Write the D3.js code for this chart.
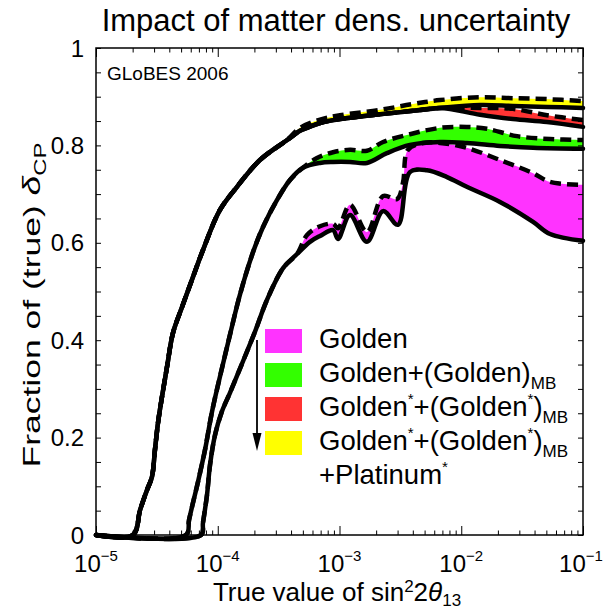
<!DOCTYPE html>
<html><head><meta charset="utf-8">
<script src="https://cdn.jsdelivr.net/npm/d3@7"></script>
<style>
body{margin:0;background:#fff}
text{font-family:"Liberation Sans",Arial,Helvetica,sans-serif;fill:#000}
</style>
</head><body>
<svg id="c" width="603" height="611"></svg>
<script>
// ---------- data (x = true sin^2 2theta13, y = fraction of true deltaCP) ----------
const xTickExps = [-5, -4, -3, -2, -1];
const yTickValues = [0, 0.2, 0.4, 0.6, 0.8, 1];
const yTickLabels = ["0", "0.2", "0.4", "0.6", "0.8", "1"];

// top group (shared part of yellow/red curves)
const topBase = [[1e-5,0],[2.01e-5,0],[2.30e-5,0.051],[2.62e-5,0.092],[2.88e-5,0.119],[3.05e-5,0.175],
  [3.23e-5,0.230],[3.48e-5,0.283],[3.83e-5,0.345],[4.29e-5,0.415],[5.09e-5,0.468],[6.14e-5,0.524],
  [7.56e-5,0.585],[1.04e-4,0.667],[1.44e-4,0.715],[2.22e-4,0.770],[3.71e-4,0.811]];
const topMid = [[4.74e-4,0.830],[5.41e-4,0.836],[6.92e-4,0.846],[1.01e-3,0.854],[2.15e-3,0.864],
  [4.02e-3,0.871],[6.69e-3,0.877]];
const yellowUpperTail = [[4.74e-4,0.836],[6.92e-4,0.853],[1.01e-3,0.862],[2.15e-3,0.873],[4.02e-3,0.885],
  [6.69e-3,0.893],[1.43e-2,0.899],[2.66e-2,0.897],[5.06e-2,0.895],[0.1,0.891]];
const yellowLowerTail = [[1.43e-2,0.883],[2.66e-2,0.881],[5.06e-2,0.879],[0.1,0.877]];
const redUpperTail = [[1.43e-2,0.877],[2.66e-2,0.875],[5.06e-2,0.862],[0.1,0.852]];
const redLowerTail = [[1.43e-2,0.863],[2.66e-2,0.854],[5.06e-2,0.848],[0.1,0.838]];

// green group
const greenBase = [[1e-5,0],[5.48e-5,0],[5.81e-5,0.031],[6.26e-5,0.066],[6.88e-5,0.109],[7.86e-5,0.175],
  [8.97e-5,0.253],[1.04e-4,0.324],[1.26e-4,0.411],[1.52e-4,0.493],[1.95e-4,0.581],[2.35e-4,0.632],
  [3.07e-4,0.688],[3.92e-4,0.729],[5.01e-4,0.754]];
const greenUpperTail = [[6.53e-4,0.774],[8.85e-4,0.786],[1.22e-3,0.791],[1.68e-3,0.789],[2.28e-3,0.807],
  [3.79e-3,0.823],[6.69e-3,0.836],[1.11e-2,0.838],[1.63e-2,0.834],[2.87e-2,0.819],[5.36e-2,0.813],[0.1,0.811]];
const greenLowerTail = [[6.92e-4,0.764],[8.85e-4,0.766],[1.22e-3,0.766],[1.68e-3,0.764],[2.45e-3,0.784],
  [3.79e-3,0.801],[6.69e-3,0.807],[1.11e-2,0.805],[2.08e-2,0.799],[3.89e-2,0.795],[0.1,0.793]];

// magenta group
const magentaBase = [[1e-5,0],[7.29e-5,0],[7.56e-5,0.025],[8.16e-5,0.082],[8.64e-5,0.144],[9.49e-5,0.205],
  [1.08e-4,0.253],[1.26e-4,0.292],[1.67e-4,0.366],[2.02e-4,0.417],[2.54e-4,0.483],[3.44e-4,0.548],[4.48e-4,0.577]];
const magentaUpperTail = [[5.41e-4,0.616],[6.92e-4,0.634],[8.85e-4,0.639],[9.72e-4,0.630],[1.22e-3,0.678],
  [1.68e-3,0.622],[2.28e-3,0.696],[2.97e-3,0.690],[3.32e-3,0.723],[3.65e-3,0.791],[4.85e-3,0.805],
  [6.69e-3,0.805],[1.11e-2,0.795],[2.08e-2,0.770],[3.89e-2,0.743],[5.36e-2,0.725],[0.1,0.719]];
const magentaLowerTail = [[5.72e-4,0.602],[6.92e-4,0.614],[8.85e-4,0.626],[9.72e-4,0.608],[1.22e-3,0.657],
  [1.68e-3,0.602],[2.28e-3,0.665],[3.02e-3,0.637],[3.79e-3,0.745],[5.23e-3,0.749],[7.64e-3,0.735],
  [1.11e-2,0.715],[2.08e-2,0.684],[3.89e-2,0.643],[5.36e-2,0.618],[0.1,0.604]];

const bandColors = ["#ff33ff", "#33ff00", "#ff3333", "#ffff00"];

// ---------- build bands ----------
const bands = [
  {color: bandColors[0], upper: magentaBase.concat(magentaUpperTail), lower: magentaBase.concat(magentaLowerTail)},
  {color: bandColors[1], upper: greenBase.concat(greenUpperTail), lower: greenBase.concat(greenLowerTail)},
  {color: bandColors[2], upper: topBase.concat(topMid, redUpperTail), lower: topBase.concat(topMid, redLowerTail)},
  {color: bandColors[3], upper: topBase.concat(yellowUpperTail), lower: topBase.concat(topMid, yellowLowerTail)}
];

const svg = d3.select("#c");
const L = 96, R = 583, T = 48, B = 535;
const x = d3.scaleLog().domain([1e-5, 1e-1]).range([L, R]);
const y = d3.scaleLinear().domain([0, 1]).range([B, T]);
const line = d3.line().x(d => x(d[0])).y(d => Math.min(B, y(d[1]))).curve(d3.curveCatmullRom.alpha(0.5));

// fills
const gFill = svg.append("g");
bands.forEach(b => {
  const up = line(b.upper);
  const lo = line(b.lower.slice().reverse()).replace(/^M/, "L");
  gFill.append("path").attr("d", up + lo + "Z").attr("fill", b.color).attr("stroke", "none");
});

// axes ticks
const majorX = xTickExps.map(e => Math.pow(10, e));
const minorX = [];
xTickExps.slice(0, -1).forEach(e => { for (let k = 2; k <= 9; k++) minorX.push(k * Math.pow(10, e)); });
const yMinor = d3.range(0, 1.0001, 0.05);

function tickAxis(axisFn, scale, vals, size, tr) {
  const g = svg.append("g").attr("transform", tr)
    .call(axisFn(scale).tickValues(vals).tickSize(-size).tickFormat(""));
  g.select(".domain").remove();
  g.selectAll("line").attr("stroke", "#000").attr("stroke-width", 1);
  g.selectAll("text").remove();
  return g;
}
tickAxis(d3.axisBottom, x, majorX, 9, `translate(0,${B})`);
tickAxis(d3.axisBottom, x, minorX, 4.5, `translate(0,${B})`);
tickAxis(d3.axisTop, x, majorX, 9, `translate(0,${T})`);
tickAxis(d3.axisTop, x, minorX, 4.5, `translate(0,${T})`);
tickAxis(d3.axisLeft, y, yMinor, 5, `translate(${L},0)`);
tickAxis(d3.axisRight, y, yMinor, 5, `translate(${R},0)`);

// frame
svg.append("rect").attr("x", L).attr("y", T).attr("width", R - L).attr("height", B - T)
  .attr("fill", "none").attr("stroke", "#000").attr("stroke-width", 1.5);

// curves
const gLines = svg.append("g").attr("fill", "none").attr("stroke", "#000")
  .attr("stroke-width", 4.5).attr("stroke-linejoin", "round");
bands.forEach(b => {
  gLines.append("path").attr("d", line(b.lower)).attr("stroke-linecap", "round");
  gLines.append("path").attr("d", line(b.upper)).attr("stroke-dasharray", "11,6");
});

// rich text helper
function rich(sel, parts, size) {
  parts.forEach(p => {
    const ts = sel.append("tspan").text(p.t);
    if (p.s === "sup") ts.attr("font-size", size * 0.55).attr("dy", -size * 0.42);
    else if (p.s === "sub") ts.attr("font-size", size * 0.62).attr("dy", size * 0.25);
    else ts.attr("font-size", size);
    if (p.back) ts.attr("dy", p.back);
  });
}

// x tick labels
xTickExps.forEach(e => {
  const t = svg.append("text").attr("x", x(Math.pow(10, e)) - (e === -1 ? 2 : 0)).attr("y", 572)
    .attr("text-anchor", "middle").attr("font-size", 24);
  t.append("tspan").text("10");
  t.append("tspan").text("\u2212" + Math.abs(e)).attr("font-size", 15).attr("dy", -11);
});
// y tick labels
yTickValues.forEach((v, i) => {
  svg.append("text").attr("x", 84).attr("y", y(v)).attr("dy", "0.36em")
    .attr("text-anchor", "end").attr("font-size", 24).text(yTickLabels[i]);
});

// title
svg.append("text").attr("x", 336).attr("y", 31).attr("text-anchor", "middle")
  .attr("font-size", 31).text("Impact of matter dens. uncertainty");

// x axis title
{
  const t = svg.append("text").attr("x", 337).attr("y", 601).attr("text-anchor", "middle").attr("font-size", 26);
  t.append("tspan").text("True value of sin");
  t.append("tspan").text("2").attr("font-size", 17).attr("dy", -9);
  t.append("tspan").text("2").attr("dy", 9);
  t.append("tspan").text("\u03b8").attr("font-style", "italic");
  t.append("tspan").text("13").attr("font-size", 17).attr("dy", 5);
}
// y axis title
{
  const t = svg.append("text").attr("transform", "translate(40,305) rotate(-90)")
    .attr("text-anchor", "middle").attr("font-size", 24.5)
    .attr("textLength", 325).attr("lengthAdjust", "spacingAndGlyphs");
  t.append("tspan").text("Fraction of (true) ");
  t.append("tspan").text("\u03b4").attr("font-style", "italic");
  t.append("tspan").text("CP").attr("font-size", 16.5).attr("dy", 6);
}

// GLoBES tag
svg.append("text").attr("x", 107).attr("y", 80).attr("font-size", 19).text("GLoBES 2006");

// legend
const legendItems = [
  [{t: "Golden"}],
  [{t: "Golden+(Golden)"}, {t: "MB", s: "sub"}],
  [{t: "Golden"}, {t: "*", s: "sup"}, {t: "+(Golden", back: 11.5}, {t: "*", s: "sup"}, {t: ")", back: 11.5}, {t: "MB", s: "sub"}],
  [{t: "Golden"}, {t: "*", s: "sup"}, {t: "+(Golden", back: 11.5}, {t: "*", s: "sup"}, {t: ")", back: 11.5}, {t: "MB", s: "sub"}]
];
const legY = [329, 363, 397, 431];
const fs = 27.5;
legendItems.forEach((parts, i) => {
  svg.append("rect").attr("x", 265).attr("y", legY[i]).attr("width", 37).attr("height", 24).attr("fill", bandColors[i]);
  const t = svg.append("text").attr("x", 319).attr("y", legY[i] + 19);
  rich(t, parts, fs);
});
{
  const t = svg.append("text").attr("x", 319).attr("y", 484);
  rich(t, [{t: "+Platinum"}, {t: "*", s: "sup"}], fs);
}
// arrow
svg.append("line").attr("x1", 257).attr("y1", 340).attr("x2", 257).attr("y2", 438)
  .attr("stroke", "#000").attr("stroke-width", 1.8);
svg.append("path").attr("d", "M252.5,433 L261.5,433 L257,451 Z").attr("fill", "#000");
</script>
</body></html>
